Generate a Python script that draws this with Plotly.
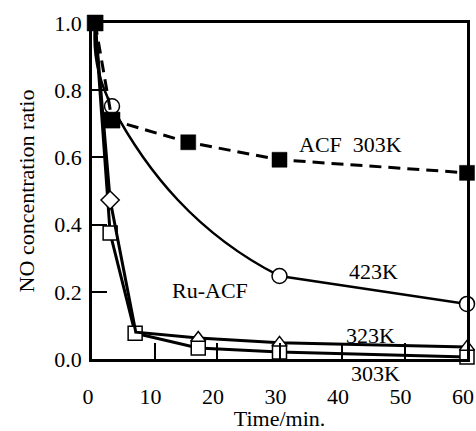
import plotly.graph_objects as go

# Data
acf_t = [0.5, 3.2, 15.4, 30, 60]
acf_y = [1.0, 0.711, 0.645, 0.593, 0.554]

k423_t = [0.5, 3.2, 30, 60]
k423_y = [1.0, 0.752, 0.247, 0.164]

k323_t = [0.5, 2.9, 7, 17, 30, 60]
k323_y = [1.0, 0.473, 0.08, 0.0625, 0.048, 0.036]

k303_t = [0.5, 2.9, 6.9, 17, 30, 60]
k303_y = [1.0, 0.375, 0.077, 0.033, 0.021, 0.006]

x_ticks = [0, 10, 20, 30, 40, 50, 60]
y_ticks = [0.0, 0.2, 0.4, 0.6, 0.8, 1.0]

FONT = "Liberation Serif, Times New Roman, serif"
BLK = "#000000"
WHT = "#ffffff"
FS = 22

fig = go.Figure()

# 423K smooth curve (fitted spline), shown up to 30 min on a hidden, half-width
# x axis with the same scale; drawn first so other marks sit on top of it
fig.add_trace(go.Scatter(
    x=k423_t, y=k423_y, mode="lines", xaxis="x", yaxis="y",
    line=dict(color=BLK, width=2.5, shape="spline", smoothing=1.3),
    showlegend=False, hoverinfo="skip"))

# 423K straight part from 30 to 60 min
fig.add_trace(go.Scatter(
    x=k423_t[2:], y=k423_y[2:], mode="lines", xaxis="x2", yaxis="y",
    line=dict(color=BLK, width=2.5), showlegend=False))

# 303K Ru-ACF: open squares
fig.add_trace(go.Scatter(
    x=k303_t, y=k303_y, mode="lines+markers", xaxis="x2", yaxis="y",
    line=dict(color=BLK, width=3),
    marker=dict(symbol="square", size=[0, 14, 14, 14, 14, 14], color=WHT, opacity=1,
                line=dict(color=BLK, width=1.5)),
    cliponaxis=False, showlegend=False))

# 323K Ru-ACF: diamond then triangles
fig.add_trace(go.Scatter(
    x=k323_t, y=k323_y, mode="lines+markers", xaxis="x2", yaxis="y",
    line=dict(color=BLK, width=3),
    marker=dict(symbol=["square", "diamond", "triangle-up", "triangle-up", "triangle-up", "triangle-up"],
                size=[0, 14, 0, 13, 13, 13], color=WHT, opacity=1,
                line=dict(color=BLK, width=1.5)),
    cliponaxis=False, showlegend=False))

# 423K markers
fig.add_trace(go.Scatter(
    x=k423_t[1:], y=k423_y[1:], mode="markers", xaxis="x2", yaxis="y",
    marker=dict(symbol="circle", size=15, color=WHT, opacity=1,
                line=dict(color=BLK, width=1.5)),
    cliponaxis=False, showlegend=False))

# ACF 303K: filled squares, dashed
fig.add_trace(go.Scatter(
    x=acf_t, y=acf_y, mode="lines+markers", xaxis="x2", yaxis="y",
    line=dict(color=BLK, width=3, dash="12px,7px"),
    marker=dict(symbol="square", size=[16, 16, 15, 15, 15], color=BLK, opacity=1,
                line=dict(color=BLK, width=0.5)),
    cliponaxis=False, showlegend=False))

ann_font = dict(family=FONT, size=FS, color=BLK)
fig.add_annotation(x=32.8, y=0.637, xref="x2", yref="y", text="ACF\u00a0\u00a0303K",
                   showarrow=False, xanchor="left", yanchor="middle", font=ann_font)
fig.add_annotation(x=45, y=0.259, xref="x2", yref="y", text="423K", showarrow=False,
                   xanchor="center", yanchor="middle", font=ann_font)
fig.add_annotation(x=12.5, y=0.205, xref="x2", yref="y", text="Ru-ACF", showarrow=False,
                   xanchor="left", yanchor="middle", font=ann_font)
fig.add_annotation(x=44.6, y=0.071, xref="x2", yref="y", text="323K", showarrow=False,
                   xanchor="center", yanchor="middle", font=ann_font)
fig.add_annotation(x=45.4, y=-0.042, xref="x2", yref="paper", text="303K", showarrow=False,
                   xanchor="center", yanchor="middle", font=ann_font)

fig.update_layout(
    width=476, height=431,
    margin=dict(l=92, r=9, t=23, b=72, autoexpand=False),
    paper_bgcolor=WHT, plot_bgcolor="rgba(0,0,0,0)",
    font=dict(family=FONT, size=FS, color=BLK),
    xaxis=dict(domain=[0, 0.5], range=[0, 30], visible=False, anchor="y",
               fixedrange=True),
    xaxis2=dict(domain=[0, 1], range=[0, 60], anchor="y",
                tickvals=x_ticks, ticktext=[str(v) for v in x_ticks],
                showgrid=False, zeroline=False, showline=True, linecolor=BLK, linewidth=2.5,
                mirror=True, ticks="inside", ticklen=16, tickwidth=2, tickcolor=BLK,
                ticklabelstandoff=16, ticklabelshift=-4, automargin=False,
                tickfont=dict(family=FONT, size=FS),
                title=dict(text="Time/min.", font=dict(family=FONT, size=FS), standoff=17)),
    yaxis=dict(range=[0, 1.0], anchor="x2", tickvals=y_ticks,
               ticktext=["%.1f" % v for v in y_ticks],
               showgrid=False, zeroline=False, showline=True, linecolor=BLK, linewidth=2.5,
               mirror=True, ticks="inside", ticklen=15, tickwidth=2, tickcolor=BLK,
               ticklabelstandoff=3, automargin=False,
               tickfont=dict(family=FONT, size=FS),
               title=dict(text="NO concentration ratio", font=dict(family=FONT, size=FS), standoff=14)),
)

fig.write_html("out.html", config={"displayModeBar": False},
               post_script="document.body.style.margin='0';document.body.style.overflow='hidden';")
